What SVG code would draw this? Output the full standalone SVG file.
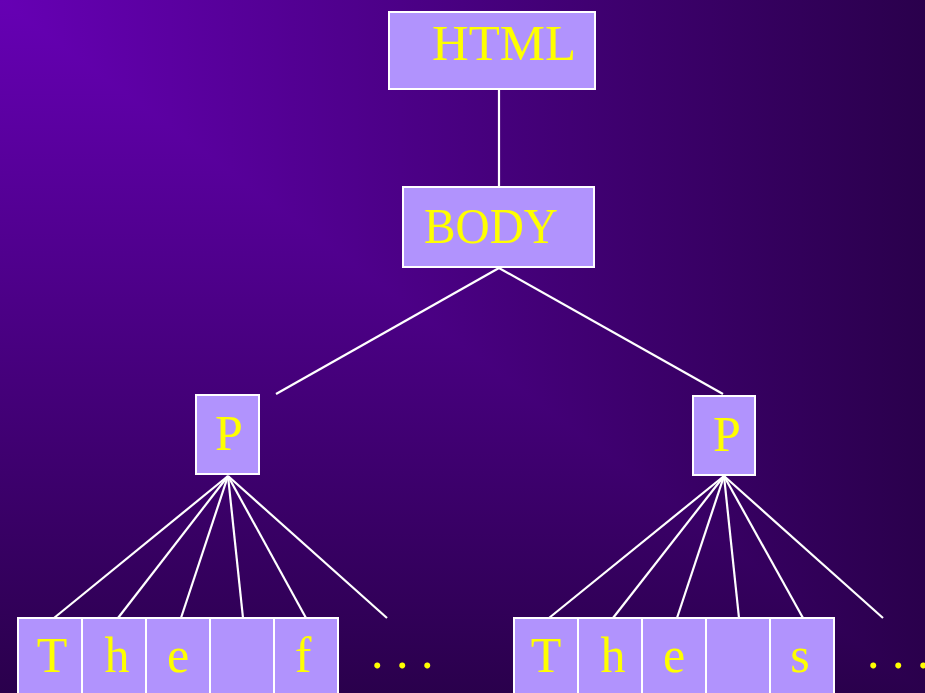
<svg xmlns="http://www.w3.org/2000/svg" width="925" height="693" viewBox="0 0 925 693">
<defs>
<linearGradient id="gv" x1="0" y1="0" x2="0" y2="693" gradientUnits="userSpaceOnUse">
<stop offset="0" stop-color="#6600b4"/><stop offset="1" stop-color="#2a004c"/>
</linearGradient>
<linearGradient id="gh" x1="0" y1="0" x2="925" y2="0" gradientUnits="userSpaceOnUse">
<stop offset="0" stop-color="#6600b4"/><stop offset="1" stop-color="#2a004c"/>
</linearGradient>
<style>
.box{fill:#b193fd;stroke:#ffffff;stroke-width:2}
.lbl{fill:#ffff00;font-family:"Liberation Serif","Times New Roman",serif;font-size:50px}
.c{text-anchor:middle}
.edge{stroke:#ffffff;stroke-width:2.2;fill:none}
</style>
</defs>
<rect x="0" y="0" width="925" height="693" fill="url(#gv)"/>
<polygon points="0,0 925,0 925,693" fill="url(#gh)"/>
<g id="connectors">
<line class="edge" x1="499" y1="89" x2="499" y2="187"/>
<line class="edge" x1="499" y1="268" x2="276" y2="394"/>
<line class="edge" x1="499" y1="268" x2="723" y2="394"/>
<line class="edge" x1="228" y1="476" x2="54" y2="618"/>
<line class="edge" x1="228" y1="476" x2="118" y2="618"/>
<line class="edge" x1="228" y1="476" x2="181" y2="618"/>
<line class="edge" x1="228" y1="476" x2="243" y2="618"/>
<line class="edge" x1="228" y1="476" x2="306" y2="618"/>
<line class="edge" x1="228" y1="476" x2="387" y2="618"/>
<line class="edge" x1="724" y1="476" x2="549" y2="618"/>
<line class="edge" x1="724" y1="476" x2="613" y2="618"/>
<line class="edge" x1="724" y1="476" x2="677" y2="618"/>
<line class="edge" x1="724" y1="476" x2="739" y2="618"/>
<line class="edge" x1="724" y1="476" x2="803" y2="618"/>
<line class="edge" x1="724" y1="476" x2="883" y2="618"/>
</g>
<g id="html"><rect class="box" x="389" y="12" width="206" height="77"/><text class="lbl" x="432" y="60" textLength="144" lengthAdjust="spacingAndGlyphs">HTML</text></g>
<g id="body"><rect class="box" x="403" y="187" width="191" height="80"/><text class="lbl" x="424" y="243" textLength="134" lengthAdjust="spacingAndGlyphs">BODY</text></g>
<g id="p1"><rect class="box" x="196" y="395" width="63" height="79"/><text class="lbl c" x="229" y="450">P</text></g>
<g id="p2"><rect class="box" x="693" y="396" width="62" height="79"/><text class="lbl c" x="727" y="451">P</text></g>
<g id="left-chars">
<g id="l1"><rect class="box" x="18" y="618" width="64" height="80"/><text class="lbl c" x="52" y="672">T</text></g>
<g id="l2"><rect class="box" x="82" y="618" width="64" height="80"/><text class="lbl c" x="117" y="672">h</text></g>
<g id="l3"><rect class="box" x="146" y="618" width="64" height="80"/><text class="lbl c" x="178" y="672">e</text></g>
<g id="l4"><rect class="box" x="210" y="618" width="64" height="80"/></g>
<g id="l5"><rect class="box" x="274" y="618" width="64" height="80"/><text class="lbl c" x="303" y="672">f</text></g>
<text class="lbl" x="371" y="668">. . .</text>
</g>
<g id="right-chars">
<g id="r1"><rect class="box" x="514" y="618" width="64" height="80"/><text class="lbl c" x="546" y="672">T</text></g>
<g id="r2"><rect class="box" x="578" y="618" width="64" height="80"/><text class="lbl c" x="613" y="672">h</text></g>
<g id="r3"><rect class="box" x="642" y="618" width="64" height="80"/><text class="lbl c" x="674" y="672">e</text></g>
<g id="r4"><rect class="box" x="706" y="618" width="64" height="80"/></g>
<g id="r5"><rect class="box" x="770" y="618" width="64" height="80"/><text class="lbl c" x="800" y="672">s</text></g>
<text class="lbl" x="867" y="668">. . .</text>
</g>
</svg>
